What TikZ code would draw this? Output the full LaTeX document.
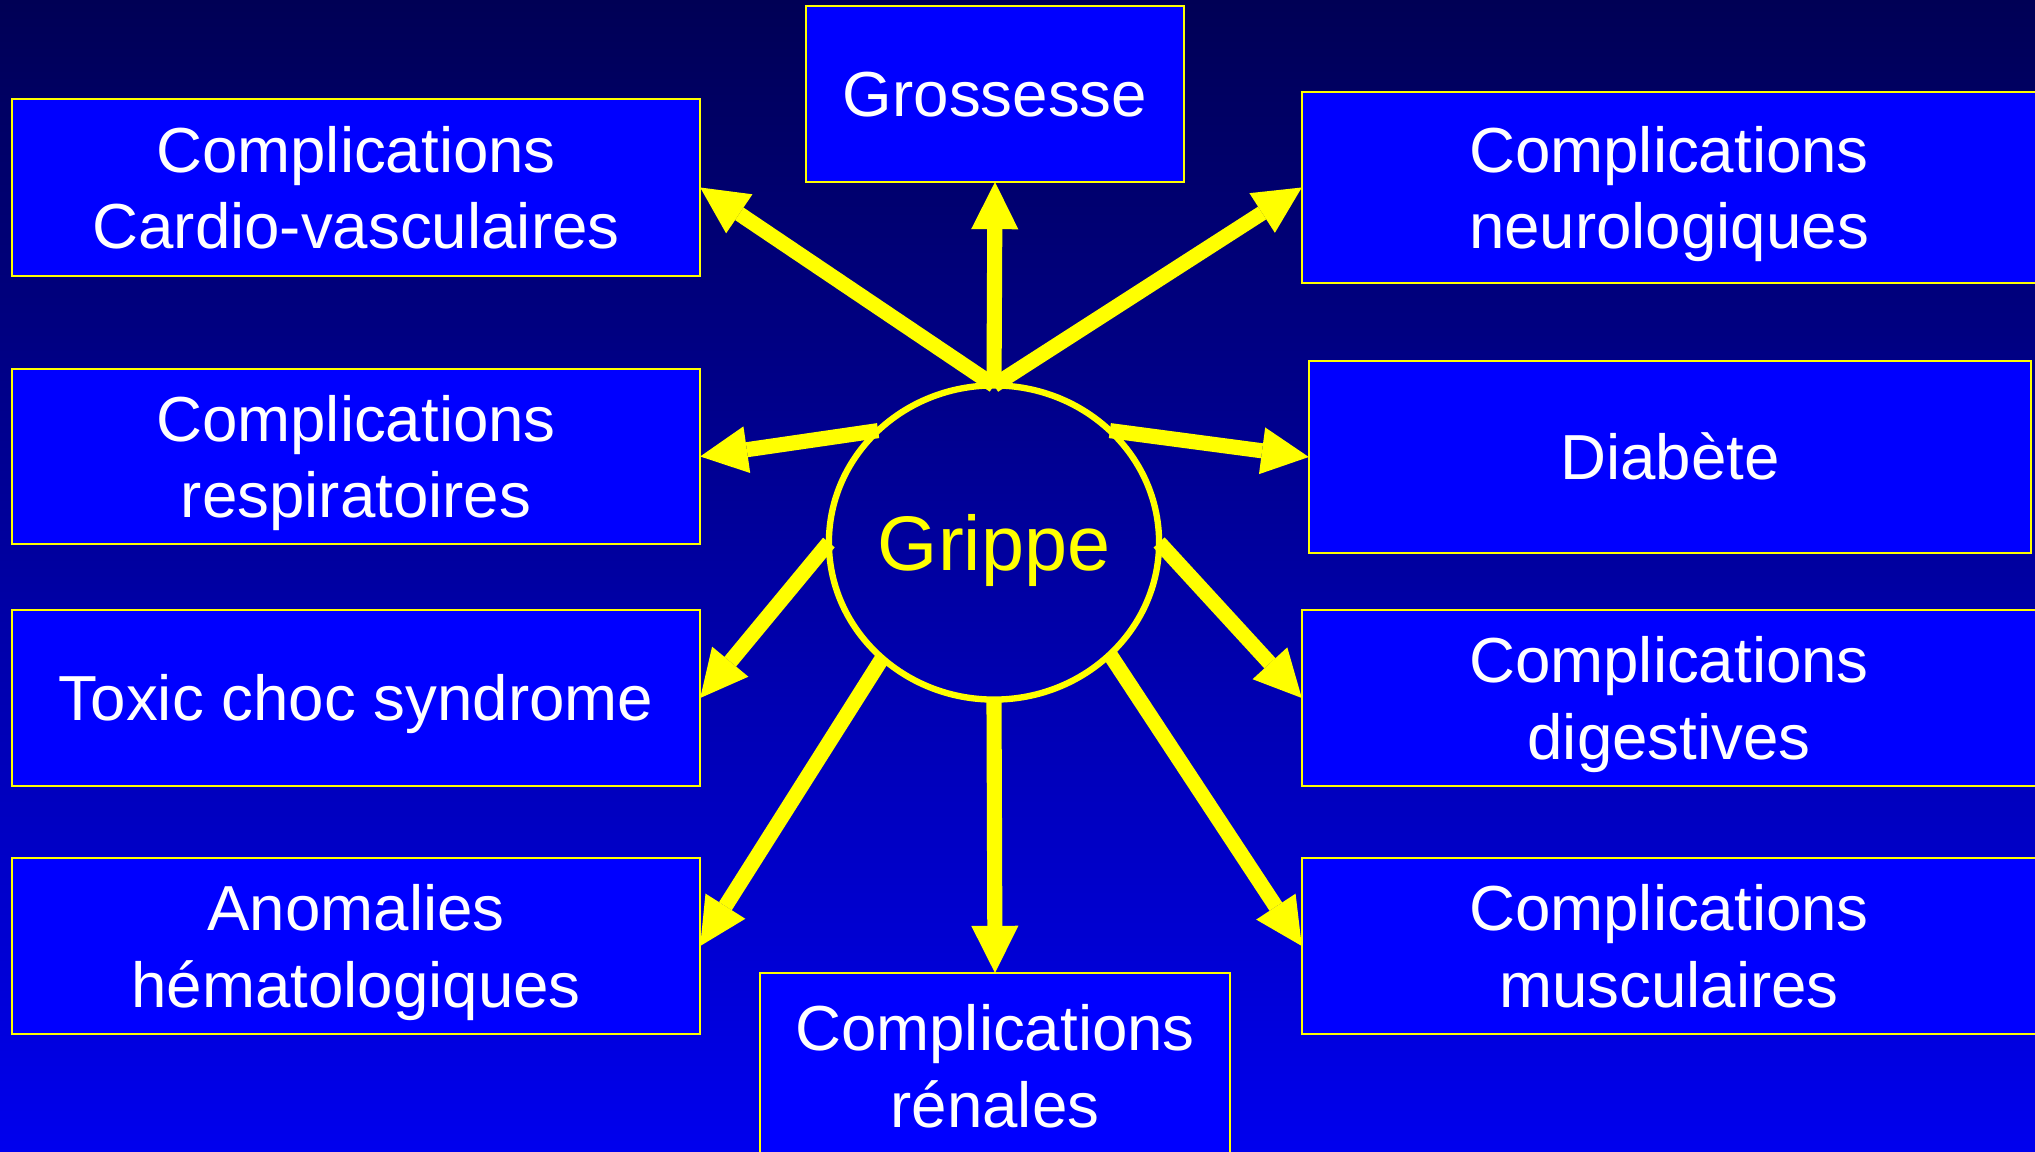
\documentclass[tikz,border=0pt]{standalone}
\usepackage{fontspec}
\setmainfont{Liberation Sans}
\usetikzlibrary{arrows.meta,shapes.geometric}
\definecolor{bgtop}{RGB}{0,0,85}
\definecolor{bgmid}{RGB}{0,0,170}
\definecolor{bgbot}{RGB}{0,0,238}
\definecolor{boxblue}{RGB}{0,0,255}
\definecolor{ayellow}{RGB}{255,255,0}
\begin{document}
\begin{tikzpicture}[x=0.01cm,y=-0.01cm,
  box/.style={draw=ayellow, line width=0.5pt, fill=boxblue, text=white,
    inner sep=0pt, outer sep=0pt, font=\fontsize{18.1}{21.8}\selectfont,
    align=center, text depth=0pt},
  oneline/.style={box, text height=13pt},
  twoline/.style={box, text height=34.8pt},
  link/.style={draw=ayellow, line width=4.3pt,
    -{Triangle[length=13.4pt,width=13.4pt,line width=0pt]}},
]
\useasboundingbox (0,0) rectangle (2035,1152);
\fill[top color=bgtop, middle color=bgmid, bottom color=bgbot] (0,0) rectangle (2035,1152);

% left column
\node[twoline, minimum width=6.88cm, minimum height=1.77cm] (cardio) at (356,187.5) {Complications\\Cardio-vasculaires};
\node[twoline, minimum width=6.88cm, minimum height=1.75cm] (resp) at (356,456.5) {Complications\\respiratoires};
\node[oneline, minimum width=6.88cm, minimum height=1.76cm] (toxic) at (356,698) {Toxic choc syndrome};
\node[twoline, minimum width=6.88cm, minimum height=1.76cm] (anom) at (356,946) {Anomalies\\hématologiques};

% middle column
\node[oneline, minimum width=3.78cm, minimum height=1.76cm] (gross) at (995,94) {Grossesse};
\node[twoline, minimum width=4.69cm, minimum height=1.86cm] (ren) at (995,1066) {Complications\\rénales};

% right column
\node[twoline, minimum width=7.34cm, minimum height=1.91cm] (neuro) at (1669,187.5) {Complications\\neurologiques};
\node[oneline, minimum width=7.22cm, minimum height=1.92cm] (diab) at (1670,457) {Diabète};
\node[twoline, minimum width=7.34cm, minimum height=1.76cm] (dig) at (1669,698) {Complications\\digestives};
\node[twoline, minimum width=7.34cm, minimum height=1.76cm] (musc) at (1669,946) {Complications\\musculaires};

% centre
\node[ellipse, draw=ayellow, line width=1.8pt, inner sep=0pt, outer sep=0pt,
  minimum width=3.30cm, minimum height=3.14cm, text=ayellow,
  font=\fontsize{22}{26}\selectfont, text height=15.8pt, text depth=0pt] (grippe) at (994,542.5) {Grippe};

% connectors
\draw[link] (grippe.north) -- (gross.south);
\draw[link] (grippe.north) -- (cardio.east);
\draw[link] (grippe.north) -- (neuro.west);
\draw[link] (grippe.136) -- (resp.east);
\draw[link] (grippe.44) -- (diab.west);
\draw[link] (grippe.west) -- (toxic.east);
\draw[link] (grippe.east) -- (dig.west);
\draw[link] (grippe.226) -- (anom.east);
\draw[link] (grippe.-44) -- (musc.west);
\draw[link] (grippe.south) -- (ren.north);
\end{tikzpicture}
\end{document}
